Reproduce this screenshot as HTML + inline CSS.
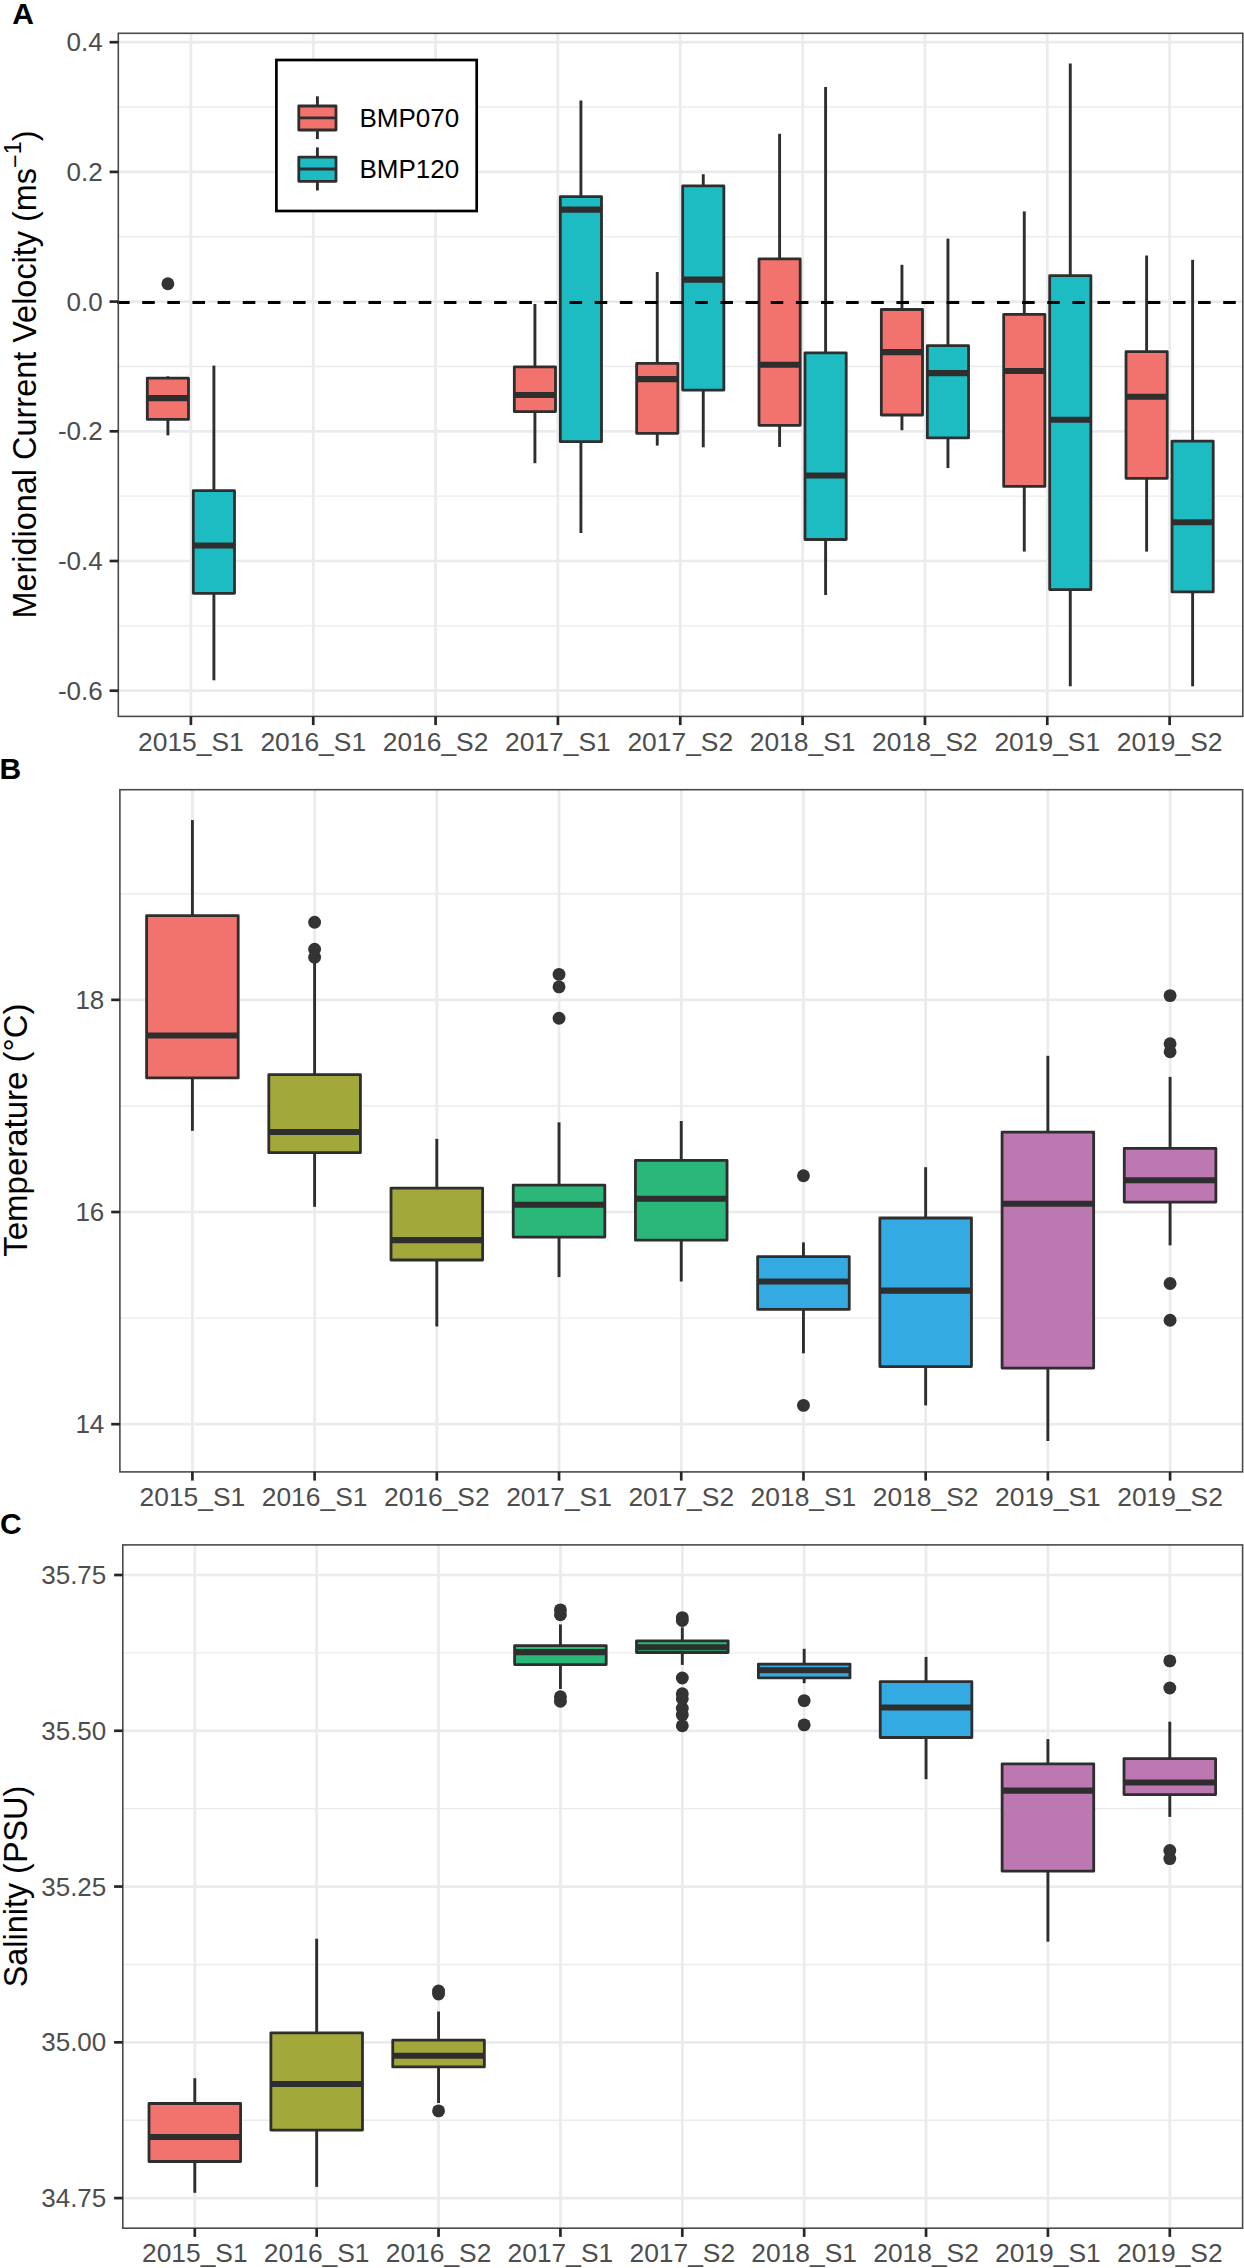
<!DOCTYPE html>
<html><head><meta charset="utf-8"><style>
html,body{margin:0;padding:0;background:#fff;overflow:hidden;width:1244px;height:2268px;}
svg{display:block;}
text{font-family:"Liberation Sans",sans-serif;}
.gM{stroke:#EAEBEC;stroke-width:2.7;}
.gm{stroke:#EAEBEC;stroke-width:1.4;}
.bd{stroke:#4a4a4a;stroke-width:1.6;}
.tk{stroke:#262626;stroke-width:2.7;}
.w{stroke:#2e2e2e;stroke-width:2.9;}
.b{stroke:#2e2e2e;stroke-width:2.8;stroke-linejoin:round;}
.m{stroke:#2e2e2e;stroke-width:6.1;}
.lm{stroke:#2e2e2e;stroke-width:2.8;}
.dash{stroke:#000;stroke-width:3.0;stroke-dasharray:12.57 12.57;}
.yl{font-size:26px;fill:#4D4D4D;text-anchor:end;}
.xl{font-size:26.4px;fill:#4D4D4D;text-anchor:middle;}
.lg{font-size:26px;fill:#000;}
.ti{font-size:32px;fill:#000;text-anchor:middle;}
.pl{font-size:30px;fill:#000;font-weight:bold;}
</style></head>
<body><svg width="1244" height="2268" viewBox="0 0 1244 2268">
<rect width="1244" height="2268" fill="#fff"/>
<rect x="118.3" y="33.3" width="1124.5" height="683.1" fill="#fff"/>
<line x1="118.3" x2="1242.8" y1="107.05" y2="107.05" class="gm"/>
<line x1="118.3" x2="1242.8" y1="236.75" y2="236.75" class="gm"/>
<line x1="118.3" x2="1242.8" y1="366.45" y2="366.45" class="gm"/>
<line x1="118.3" x2="1242.8" y1="496.15" y2="496.15" class="gm"/>
<line x1="118.3" x2="1242.8" y1="625.85" y2="625.85" class="gm"/>
<line x1="118.3" x2="1242.8" y1="42.20" y2="42.20" class="gM"/>
<line x1="118.3" x2="1242.8" y1="171.90" y2="171.90" class="gM"/>
<line x1="118.3" x2="1242.8" y1="301.60" y2="301.60" class="gM"/>
<line x1="118.3" x2="1242.8" y1="431.30" y2="431.30" class="gM"/>
<line x1="118.3" x2="1242.8" y1="561.00" y2="561.00" class="gM"/>
<line x1="118.3" x2="1242.8" y1="690.70" y2="690.70" class="gM"/>
<line x1="190.90" x2="190.90" y1="33.3" y2="716.4" class="gM"/>
<line x1="313.24" x2="313.24" y1="33.3" y2="716.4" class="gM"/>
<line x1="435.58" x2="435.58" y1="33.3" y2="716.4" class="gM"/>
<line x1="557.92" x2="557.92" y1="33.3" y2="716.4" class="gM"/>
<line x1="680.26" x2="680.26" y1="33.3" y2="716.4" class="gM"/>
<line x1="802.60" x2="802.60" y1="33.3" y2="716.4" class="gM"/>
<line x1="924.94" x2="924.94" y1="33.3" y2="716.4" class="gM"/>
<line x1="1047.28" x2="1047.28" y1="33.3" y2="716.4" class="gM"/>
<line x1="1169.62" x2="1169.62" y1="33.3" y2="716.4" class="gM"/>
<line x1="167.90" y1="376.30" x2="167.90" y2="378.20" class="w"/>
<line x1="167.90" y1="419.40" x2="167.90" y2="435.40" class="w"/>
<rect x="147.30" y="378.20" width="41.20" height="41.20" fill="#F2736D" class="b"/>
<line x1="147.30" y1="398.10" x2="188.50" y2="398.10" class="m"/>
<circle cx="167.90" cy="283.70" r="6.45" fill="#333333"/>
<line x1="213.90" y1="365.60" x2="213.90" y2="490.70" class="w"/>
<line x1="213.90" y1="593.30" x2="213.90" y2="680.30" class="w"/>
<rect x="193.30" y="490.70" width="41.20" height="102.60" fill="#1DBCC3" class="b"/>
<line x1="193.30" y1="545.50" x2="234.50" y2="545.50" class="m"/>
<line x1="534.92" y1="304.00" x2="534.92" y2="366.90" class="w"/>
<line x1="534.92" y1="411.60" x2="534.92" y2="463.20" class="w"/>
<rect x="514.32" y="366.90" width="41.20" height="44.70" fill="#F2736D" class="b"/>
<line x1="514.32" y1="395.00" x2="555.52" y2="395.00" class="m"/>
<line x1="580.92" y1="100.50" x2="580.92" y2="196.70" class="w"/>
<line x1="580.92" y1="441.70" x2="580.92" y2="533.00" class="w"/>
<rect x="560.32" y="196.70" width="41.20" height="245.00" fill="#1DBCC3" class="b"/>
<line x1="560.32" y1="209.60" x2="601.52" y2="209.60" class="m"/>
<line x1="657.26" y1="272.00" x2="657.26" y2="363.30" class="w"/>
<line x1="657.26" y1="433.30" x2="657.26" y2="445.60" class="w"/>
<rect x="636.66" y="363.30" width="41.20" height="70.00" fill="#F2736D" class="b"/>
<line x1="636.66" y1="379.10" x2="677.86" y2="379.10" class="m"/>
<line x1="703.26" y1="174.20" x2="703.26" y2="185.90" class="w"/>
<line x1="703.26" y1="390.10" x2="703.26" y2="447.30" class="w"/>
<rect x="682.66" y="185.90" width="41.20" height="204.20" fill="#1DBCC3" class="b"/>
<line x1="682.66" y1="279.60" x2="723.86" y2="279.60" class="m"/>
<line x1="779.60" y1="133.80" x2="779.60" y2="258.80" class="w"/>
<line x1="779.60" y1="425.30" x2="779.60" y2="446.90" class="w"/>
<rect x="759.00" y="258.80" width="41.20" height="166.50" fill="#F2736D" class="b"/>
<line x1="759.00" y1="364.80" x2="800.20" y2="364.80" class="m"/>
<line x1="825.60" y1="87.10" x2="825.60" y2="352.80" class="w"/>
<line x1="825.60" y1="539.50" x2="825.60" y2="595.00" class="w"/>
<rect x="805.00" y="352.80" width="41.20" height="186.70" fill="#1DBCC3" class="b"/>
<line x1="805.00" y1="475.50" x2="846.20" y2="475.50" class="m"/>
<line x1="901.94" y1="264.80" x2="901.94" y2="309.50" class="w"/>
<line x1="901.94" y1="415.00" x2="901.94" y2="430.20" class="w"/>
<rect x="881.34" y="309.50" width="41.20" height="105.50" fill="#F2736D" class="b"/>
<line x1="881.34" y1="352.10" x2="922.54" y2="352.10" class="m"/>
<line x1="947.94" y1="238.60" x2="947.94" y2="345.70" class="w"/>
<line x1="947.94" y1="437.90" x2="947.94" y2="468.10" class="w"/>
<rect x="927.34" y="345.70" width="41.20" height="92.20" fill="#1DBCC3" class="b"/>
<line x1="927.34" y1="373.10" x2="968.54" y2="373.10" class="m"/>
<line x1="1024.28" y1="211.40" x2="1024.28" y2="314.40" class="w"/>
<line x1="1024.28" y1="486.40" x2="1024.28" y2="551.60" class="w"/>
<rect x="1003.68" y="314.40" width="41.20" height="172.00" fill="#F2736D" class="b"/>
<line x1="1003.68" y1="371.00" x2="1044.88" y2="371.00" class="m"/>
<line x1="1070.28" y1="63.50" x2="1070.28" y2="275.70" class="w"/>
<line x1="1070.28" y1="589.60" x2="1070.28" y2="686.30" class="w"/>
<rect x="1049.68" y="275.70" width="41.20" height="313.90" fill="#1DBCC3" class="b"/>
<line x1="1049.68" y1="419.70" x2="1090.88" y2="419.70" class="m"/>
<line x1="1146.62" y1="255.50" x2="1146.62" y2="351.70" class="w"/>
<line x1="1146.62" y1="478.30" x2="1146.62" y2="551.60" class="w"/>
<rect x="1126.02" y="351.70" width="41.20" height="126.60" fill="#F2736D" class="b"/>
<line x1="1126.02" y1="396.80" x2="1167.22" y2="396.80" class="m"/>
<line x1="1192.62" y1="259.80" x2="1192.62" y2="441.10" class="w"/>
<line x1="1192.62" y1="591.90" x2="1192.62" y2="686.30" class="w"/>
<rect x="1172.02" y="441.10" width="41.20" height="150.80" fill="#1DBCC3" class="b"/>
<line x1="1172.02" y1="522.30" x2="1213.22" y2="522.30" class="m"/>
<line x1="117.05" x2="1242.8" y1="302.4" y2="302.4" class="dash"/>
<rect x="118.3" y="33.3" width="1124.5" height="683.1" fill="none" class="bd"/>
<line x1="109.60" x2="118.30" y1="42.20" y2="42.20" class="tk"/>
<text x="102.70" y="51.20" class="yl">0.4</text>
<line x1="109.60" x2="118.30" y1="171.90" y2="171.90" class="tk"/>
<text x="102.70" y="180.90" class="yl">0.2</text>
<line x1="109.60" x2="118.30" y1="301.60" y2="301.60" class="tk"/>
<text x="102.70" y="310.60" class="yl">0.0</text>
<line x1="109.60" x2="118.30" y1="431.30" y2="431.30" class="tk"/>
<text x="102.70" y="440.30" class="yl">-0.2</text>
<line x1="109.60" x2="118.30" y1="561.00" y2="561.00" class="tk"/>
<text x="102.70" y="570.00" class="yl">-0.4</text>
<line x1="109.60" x2="118.30" y1="690.70" y2="690.70" class="tk"/>
<text x="102.70" y="699.70" class="yl">-0.6</text>
<line x1="190.90" x2="190.90" y1="716.40" y2="725.10" class="tk"/>
<text x="190.90" y="750.50" class="xl">2015_S1</text>
<line x1="313.24" x2="313.24" y1="716.40" y2="725.10" class="tk"/>
<text x="313.24" y="750.50" class="xl">2016_S1</text>
<line x1="435.58" x2="435.58" y1="716.40" y2="725.10" class="tk"/>
<text x="435.58" y="750.50" class="xl">2016_S2</text>
<line x1="557.92" x2="557.92" y1="716.40" y2="725.10" class="tk"/>
<text x="557.92" y="750.50" class="xl">2017_S1</text>
<line x1="680.26" x2="680.26" y1="716.40" y2="725.10" class="tk"/>
<text x="680.26" y="750.50" class="xl">2017_S2</text>
<line x1="802.60" x2="802.60" y1="716.40" y2="725.10" class="tk"/>
<text x="802.60" y="750.50" class="xl">2018_S1</text>
<line x1="924.94" x2="924.94" y1="716.40" y2="725.10" class="tk"/>
<text x="924.94" y="750.50" class="xl">2018_S2</text>
<line x1="1047.28" x2="1047.28" y1="716.40" y2="725.10" class="tk"/>
<text x="1047.28" y="750.50" class="xl">2019_S1</text>
<line x1="1169.62" x2="1169.62" y1="716.40" y2="725.10" class="tk"/>
<text x="1169.62" y="750.50" class="xl">2019_S2</text>
<rect x="276.4" y="60" width="200.3" height="151.0" fill="#fff" stroke="#000" stroke-width="2.7"/>
<line x1="317.40" y1="96.30" x2="317.40" y2="106.00" class="w"/>
<line x1="317.40" y1="130.00" x2="317.40" y2="139.10" class="w"/>
<rect x="298.80" y="106.00" width="37.20" height="24.00" fill="#F2736D" class="b"/>
<line x1="298.80" y1="117.90" x2="336.00" y2="117.90" class="lm"/>
<line x1="317.40" y1="147.40" x2="317.40" y2="157.10" class="w"/>
<line x1="317.40" y1="181.30" x2="317.40" y2="190.50" class="w"/>
<rect x="298.80" y="157.10" width="37.20" height="24.20" fill="#1DBCC3" class="b"/>
<line x1="298.80" y1="169.00" x2="336.00" y2="169.00" class="lm"/>
<text x="359.5" y="127.1" class="lg">BMP070</text>
<text x="359.5" y="177.8" class="lg">BMP120</text>
<rect x="119.9" y="789.7" width="1122.6999999999998" height="682.2" fill="#fff"/>
<line x1="119.9" x2="1242.6" y1="893.78" y2="893.78" class="gm"/>
<line x1="119.9" x2="1242.6" y1="1105.94" y2="1105.94" class="gm"/>
<line x1="119.9" x2="1242.6" y1="1318.10" y2="1318.10" class="gm"/>
<line x1="119.9" x2="1242.6" y1="999.86" y2="999.86" class="gM"/>
<line x1="119.9" x2="1242.6" y1="1212.02" y2="1212.02" class="gM"/>
<line x1="119.9" x2="1242.6" y1="1424.18" y2="1424.18" class="gM"/>
<line x1="192.40" x2="192.40" y1="789.7" y2="1471.9" class="gM"/>
<line x1="314.61" x2="314.61" y1="789.7" y2="1471.9" class="gM"/>
<line x1="436.82" x2="436.82" y1="789.7" y2="1471.9" class="gM"/>
<line x1="559.03" x2="559.03" y1="789.7" y2="1471.9" class="gM"/>
<line x1="681.24" x2="681.24" y1="789.7" y2="1471.9" class="gM"/>
<line x1="803.45" x2="803.45" y1="789.7" y2="1471.9" class="gM"/>
<line x1="925.66" x2="925.66" y1="789.7" y2="1471.9" class="gM"/>
<line x1="1047.87" x2="1047.87" y1="789.7" y2="1471.9" class="gM"/>
<line x1="1170.08" x2="1170.08" y1="789.7" y2="1471.9" class="gM"/>
<line x1="192.40" y1="820.10" x2="192.40" y2="915.60" class="w"/>
<line x1="192.40" y1="1077.90" x2="192.40" y2="1130.80" class="w"/>
<rect x="146.60" y="915.60" width="91.60" height="162.30" fill="#F2736D" class="b"/>
<line x1="146.60" y1="1035.50" x2="238.20" y2="1035.50" class="m"/>
<line x1="314.61" y1="960.80" x2="314.61" y2="1074.70" class="w"/>
<line x1="314.61" y1="1152.70" x2="314.61" y2="1206.80" class="w"/>
<rect x="268.81" y="1074.70" width="91.60" height="78.00" fill="#A3A83A" class="b"/>
<line x1="268.81" y1="1132.00" x2="360.41" y2="1132.00" class="m"/>
<circle cx="314.61" cy="922.30" r="6.45" fill="#333333"/>
<circle cx="314.61" cy="949.30" r="6.45" fill="#333333"/>
<circle cx="314.61" cy="957.20" r="6.45" fill="#333333"/>
<line x1="436.82" y1="1138.80" x2="436.82" y2="1188.10" class="w"/>
<line x1="436.82" y1="1260.00" x2="436.82" y2="1326.50" class="w"/>
<rect x="391.02" y="1188.10" width="91.60" height="71.90" fill="#A3A83A" class="b"/>
<line x1="391.02" y1="1240.10" x2="482.62" y2="1240.10" class="m"/>
<line x1="559.03" y1="1122.30" x2="559.03" y2="1185.20" class="w"/>
<line x1="559.03" y1="1237.10" x2="559.03" y2="1277.10" class="w"/>
<rect x="513.23" y="1185.20" width="91.60" height="51.90" fill="#2BB67A" class="b"/>
<line x1="513.23" y1="1204.70" x2="604.83" y2="1204.70" class="m"/>
<circle cx="559.03" cy="974.40" r="6.45" fill="#333333"/>
<circle cx="559.03" cy="986.90" r="6.45" fill="#333333"/>
<circle cx="559.03" cy="1018.20" r="6.45" fill="#333333"/>
<line x1="681.24" y1="1121.00" x2="681.24" y2="1160.40" class="w"/>
<line x1="681.24" y1="1240.20" x2="681.24" y2="1281.50" class="w"/>
<rect x="635.44" y="1160.40" width="91.60" height="79.80" fill="#2BB67A" class="b"/>
<line x1="635.44" y1="1198.80" x2="727.04" y2="1198.80" class="m"/>
<line x1="803.45" y1="1242.40" x2="803.45" y2="1256.70" class="w"/>
<line x1="803.45" y1="1309.40" x2="803.45" y2="1353.30" class="w"/>
<rect x="757.65" y="1256.70" width="91.60" height="52.70" fill="#33ABE2" class="b"/>
<line x1="757.65" y1="1281.50" x2="849.25" y2="1281.50" class="m"/>
<circle cx="803.45" cy="1175.70" r="6.45" fill="#333333"/>
<circle cx="803.45" cy="1405.40" r="6.45" fill="#333333"/>
<line x1="925.66" y1="1167.20" x2="925.66" y2="1218.00" class="w"/>
<line x1="925.66" y1="1366.60" x2="925.66" y2="1405.40" class="w"/>
<rect x="879.86" y="1218.00" width="91.60" height="148.60" fill="#33ABE2" class="b"/>
<line x1="879.86" y1="1290.60" x2="971.46" y2="1290.60" class="m"/>
<line x1="1047.87" y1="1055.80" x2="1047.87" y2="1132.20" class="w"/>
<line x1="1047.87" y1="1368.10" x2="1047.87" y2="1441.00" class="w"/>
<rect x="1002.07" y="1132.20" width="91.60" height="235.90" fill="#BD77B1" class="b"/>
<line x1="1002.07" y1="1203.80" x2="1093.67" y2="1203.80" class="m"/>
<line x1="1170.08" y1="1076.90" x2="1170.08" y2="1148.30" class="w"/>
<line x1="1170.08" y1="1202.10" x2="1170.08" y2="1245.40" class="w"/>
<rect x="1124.28" y="1148.30" width="91.60" height="53.80" fill="#BD77B1" class="b"/>
<line x1="1124.28" y1="1180.20" x2="1215.88" y2="1180.20" class="m"/>
<circle cx="1170.08" cy="995.60" r="6.45" fill="#333333"/>
<circle cx="1170.08" cy="1043.80" r="6.45" fill="#333333"/>
<circle cx="1170.08" cy="1051.80" r="6.45" fill="#333333"/>
<circle cx="1170.08" cy="1283.50" r="6.45" fill="#333333"/>
<circle cx="1170.08" cy="1320.20" r="6.45" fill="#333333"/>
<rect x="119.9" y="789.7" width="1122.6999999999998" height="682.2" fill="none" class="bd"/>
<line x1="111.20" x2="119.90" y1="999.86" y2="999.86" class="tk"/>
<text x="104.30" y="1008.86" class="yl">18</text>
<line x1="111.20" x2="119.90" y1="1212.02" y2="1212.02" class="tk"/>
<text x="104.30" y="1221.02" class="yl">16</text>
<line x1="111.20" x2="119.90" y1="1424.18" y2="1424.18" class="tk"/>
<text x="104.30" y="1433.18" class="yl">14</text>
<line x1="192.40" x2="192.40" y1="1471.90" y2="1480.60" class="tk"/>
<text x="192.40" y="1506.00" class="xl">2015_S1</text>
<line x1="314.61" x2="314.61" y1="1471.90" y2="1480.60" class="tk"/>
<text x="314.61" y="1506.00" class="xl">2016_S1</text>
<line x1="436.82" x2="436.82" y1="1471.90" y2="1480.60" class="tk"/>
<text x="436.82" y="1506.00" class="xl">2016_S2</text>
<line x1="559.03" x2="559.03" y1="1471.90" y2="1480.60" class="tk"/>
<text x="559.03" y="1506.00" class="xl">2017_S1</text>
<line x1="681.24" x2="681.24" y1="1471.90" y2="1480.60" class="tk"/>
<text x="681.24" y="1506.00" class="xl">2017_S2</text>
<line x1="803.45" x2="803.45" y1="1471.90" y2="1480.60" class="tk"/>
<text x="803.45" y="1506.00" class="xl">2018_S1</text>
<line x1="925.66" x2="925.66" y1="1471.90" y2="1480.60" class="tk"/>
<text x="925.66" y="1506.00" class="xl">2018_S2</text>
<line x1="1047.87" x2="1047.87" y1="1471.90" y2="1480.60" class="tk"/>
<text x="1047.87" y="1506.00" class="xl">2019_S1</text>
<line x1="1170.08" x2="1170.08" y1="1471.90" y2="1480.60" class="tk"/>
<text x="1170.08" y="1506.00" class="xl">2019_S2</text>
<rect x="122.8" y="1544.9" width="1119.8" height="683.2999999999997" fill="#fff"/>
<line x1="122.8" x2="1242.6" y1="1652.89" y2="1652.89" class="gm"/>
<line x1="122.8" x2="1242.6" y1="1808.66" y2="1808.66" class="gm"/>
<line x1="122.8" x2="1242.6" y1="1964.44" y2="1964.44" class="gm"/>
<line x1="122.8" x2="1242.6" y1="2120.21" y2="2120.21" class="gm"/>
<line x1="122.8" x2="1242.6" y1="1575.00" y2="1575.00" class="gM"/>
<line x1="122.8" x2="1242.6" y1="1730.78" y2="1730.78" class="gM"/>
<line x1="122.8" x2="1242.6" y1="1886.55" y2="1886.55" class="gM"/>
<line x1="122.8" x2="1242.6" y1="2042.33" y2="2042.33" class="gM"/>
<line x1="122.8" x2="1242.6" y1="2198.10" y2="2198.10" class="gM"/>
<line x1="194.80" x2="194.80" y1="1544.9" y2="2228.2" class="gM"/>
<line x1="316.68" x2="316.68" y1="1544.9" y2="2228.2" class="gM"/>
<line x1="438.55" x2="438.55" y1="1544.9" y2="2228.2" class="gM"/>
<line x1="560.42" x2="560.42" y1="1544.9" y2="2228.2" class="gM"/>
<line x1="682.30" x2="682.30" y1="1544.9" y2="2228.2" class="gM"/>
<line x1="804.17" x2="804.17" y1="1544.9" y2="2228.2" class="gM"/>
<line x1="926.05" x2="926.05" y1="1544.9" y2="2228.2" class="gM"/>
<line x1="1047.92" x2="1047.92" y1="1544.9" y2="2228.2" class="gM"/>
<line x1="1169.80" x2="1169.80" y1="1544.9" y2="2228.2" class="gM"/>
<line x1="194.80" y1="2078.20" x2="194.80" y2="2103.50" class="w"/>
<line x1="194.80" y1="2161.50" x2="194.80" y2="2192.80" class="w"/>
<rect x="149.00" y="2103.50" width="91.60" height="58.00" fill="#F2736D" class="b"/>
<line x1="149.00" y1="2137.00" x2="240.60" y2="2137.00" class="m"/>
<line x1="316.68" y1="1938.70" x2="316.68" y2="2032.80" class="w"/>
<line x1="316.68" y1="2130.10" x2="316.68" y2="2186.90" class="w"/>
<rect x="270.88" y="2032.80" width="91.60" height="97.30" fill="#A3A83A" class="b"/>
<line x1="270.88" y1="2084.00" x2="362.48" y2="2084.00" class="m"/>
<line x1="438.55" y1="2011.50" x2="438.55" y2="2040.20" class="w"/>
<line x1="438.55" y1="2066.90" x2="438.55" y2="2103.00" class="w"/>
<rect x="392.75" y="2040.20" width="91.60" height="26.70" fill="#A3A83A" class="b"/>
<line x1="392.75" y1="2055.80" x2="484.35" y2="2055.80" class="m"/>
<circle cx="438.55" cy="1991.00" r="6.45" fill="#333333"/>
<circle cx="438.55" cy="1994.00" r="6.45" fill="#333333"/>
<circle cx="438.55" cy="2110.90" r="6.45" fill="#333333"/>
<line x1="560.42" y1="1624.40" x2="560.42" y2="1645.60" class="w"/>
<line x1="560.42" y1="1664.60" x2="560.42" y2="1689.00" class="w"/>
<rect x="514.62" y="1645.60" width="91.60" height="19.00" fill="#2BB67A" class="b"/>
<line x1="514.62" y1="1652.10" x2="606.22" y2="1652.10" class="m"/>
<circle cx="560.42" cy="1609.90" r="6.45" fill="#333333"/>
<circle cx="560.42" cy="1614.70" r="6.45" fill="#333333"/>
<circle cx="560.42" cy="1696.70" r="6.45" fill="#333333"/>
<circle cx="560.42" cy="1701.20" r="6.45" fill="#333333"/>
<line x1="682.30" y1="1627.30" x2="682.30" y2="1640.80" class="w"/>
<line x1="682.30" y1="1652.50" x2="682.30" y2="1664.90" class="w"/>
<rect x="636.50" y="1640.80" width="91.60" height="11.70" fill="#2BB67A" class="b"/>
<line x1="636.50" y1="1647.20" x2="728.10" y2="1647.20" class="m"/>
<circle cx="682.30" cy="1617.60" r="6.45" fill="#333333"/>
<circle cx="682.30" cy="1620.50" r="6.45" fill="#333333"/>
<circle cx="682.30" cy="1678.00" r="6.45" fill="#333333"/>
<circle cx="682.30" cy="1693.80" r="6.45" fill="#333333"/>
<circle cx="682.30" cy="1698.70" r="6.45" fill="#333333"/>
<circle cx="682.30" cy="1708.30" r="6.45" fill="#333333"/>
<circle cx="682.30" cy="1715.00" r="6.45" fill="#333333"/>
<circle cx="682.30" cy="1725.70" r="6.45" fill="#333333"/>
<line x1="804.17" y1="1648.80" x2="804.17" y2="1664.10" class="w"/>
<line x1="804.17" y1="1677.90" x2="804.17" y2="1683.20" class="w"/>
<rect x="758.38" y="1664.10" width="91.60" height="13.80" fill="#33ABE2" class="b"/>
<line x1="758.38" y1="1670.20" x2="849.97" y2="1670.20" class="m"/>
<circle cx="804.17" cy="1700.60" r="6.45" fill="#333333"/>
<circle cx="804.17" cy="1724.90" r="6.45" fill="#333333"/>
<line x1="926.05" y1="1656.90" x2="926.05" y2="1681.60" class="w"/>
<line x1="926.05" y1="1737.50" x2="926.05" y2="1779.20" class="w"/>
<rect x="880.25" y="1681.60" width="91.60" height="55.90" fill="#33ABE2" class="b"/>
<line x1="880.25" y1="1707.50" x2="971.85" y2="1707.50" class="m"/>
<line x1="1047.92" y1="1739.10" x2="1047.92" y2="1763.80" class="w"/>
<line x1="1047.92" y1="1871.20" x2="1047.92" y2="1941.70" class="w"/>
<rect x="1002.12" y="1763.80" width="91.60" height="107.40" fill="#BD77B1" class="b"/>
<line x1="1002.12" y1="1790.60" x2="1093.72" y2="1790.60" class="m"/>
<line x1="1169.80" y1="1721.70" x2="1169.80" y2="1758.60" class="w"/>
<line x1="1169.80" y1="1794.60" x2="1169.80" y2="1816.90" class="w"/>
<rect x="1124.00" y="1758.60" width="91.60" height="36.00" fill="#BD77B1" class="b"/>
<line x1="1124.00" y1="1782.50" x2="1215.60" y2="1782.50" class="m"/>
<circle cx="1169.80" cy="1660.90" r="6.45" fill="#333333"/>
<circle cx="1169.80" cy="1688.00" r="6.45" fill="#333333"/>
<circle cx="1169.80" cy="1850.50" r="6.45" fill="#333333"/>
<circle cx="1169.80" cy="1858.60" r="6.45" fill="#333333"/>
<rect x="122.8" y="1544.9" width="1119.8" height="683.2999999999997" fill="none" class="bd"/>
<line x1="114.10" x2="122.80" y1="1575.00" y2="1575.00" class="tk"/>
<text x="106.30" y="1584.00" class="yl">35.75</text>
<line x1="114.10" x2="122.80" y1="1730.78" y2="1730.78" class="tk"/>
<text x="106.30" y="1739.78" class="yl">35.50</text>
<line x1="114.10" x2="122.80" y1="1886.55" y2="1886.55" class="tk"/>
<text x="106.30" y="1895.55" class="yl">35.25</text>
<line x1="114.10" x2="122.80" y1="2042.33" y2="2042.33" class="tk"/>
<text x="106.30" y="2051.32" class="yl">35.00</text>
<line x1="114.10" x2="122.80" y1="2198.10" y2="2198.10" class="tk"/>
<text x="106.30" y="2207.10" class="yl">34.75</text>
<line x1="194.80" x2="194.80" y1="2228.20" y2="2236.90" class="tk"/>
<text x="194.80" y="2262.30" class="xl">2015_S1</text>
<line x1="316.68" x2="316.68" y1="2228.20" y2="2236.90" class="tk"/>
<text x="316.68" y="2262.30" class="xl">2016_S1</text>
<line x1="438.55" x2="438.55" y1="2228.20" y2="2236.90" class="tk"/>
<text x="438.55" y="2262.30" class="xl">2016_S2</text>
<line x1="560.42" x2="560.42" y1="2228.20" y2="2236.90" class="tk"/>
<text x="560.42" y="2262.30" class="xl">2017_S1</text>
<line x1="682.30" x2="682.30" y1="2228.20" y2="2236.90" class="tk"/>
<text x="682.30" y="2262.30" class="xl">2017_S2</text>
<line x1="804.17" x2="804.17" y1="2228.20" y2="2236.90" class="tk"/>
<text x="804.17" y="2262.30" class="xl">2018_S1</text>
<line x1="926.05" x2="926.05" y1="2228.20" y2="2236.90" class="tk"/>
<text x="926.05" y="2262.30" class="xl">2018_S2</text>
<line x1="1047.92" x2="1047.92" y1="2228.20" y2="2236.90" class="tk"/>
<text x="1047.92" y="2262.30" class="xl">2019_S1</text>
<line x1="1169.80" x2="1169.80" y1="2228.20" y2="2236.90" class="tk"/>
<text x="1169.80" y="2262.30" class="xl">2019_S2</text>
<text transform="translate(35.9 374.5) rotate(-90)" class="ti" style="font-size:32.45px">Meridional Current Velocity (ms<tspan dy="-13.2" font-size="23.4">−</tspan><tspan dy="-2.0" font-size="23.4">1</tspan><tspan dy="15.2">)</tspan></text>
<text transform="translate(27.0 1130.1) rotate(-90)" class="ti" style="font-size:33px">Temperature (°C)</text>
<text transform="translate(27.0 1886.5) rotate(-90)" class="ti" style="font-size:32.4px">Salinity (PSU)</text>
<text x="12.2" y="23.9" class="pl">A</text>
<text x="-0.4" y="779.3" class="pl">B</text>
<text x="0.0" y="1534.0" class="pl">C</text>
</svg></body></html>
